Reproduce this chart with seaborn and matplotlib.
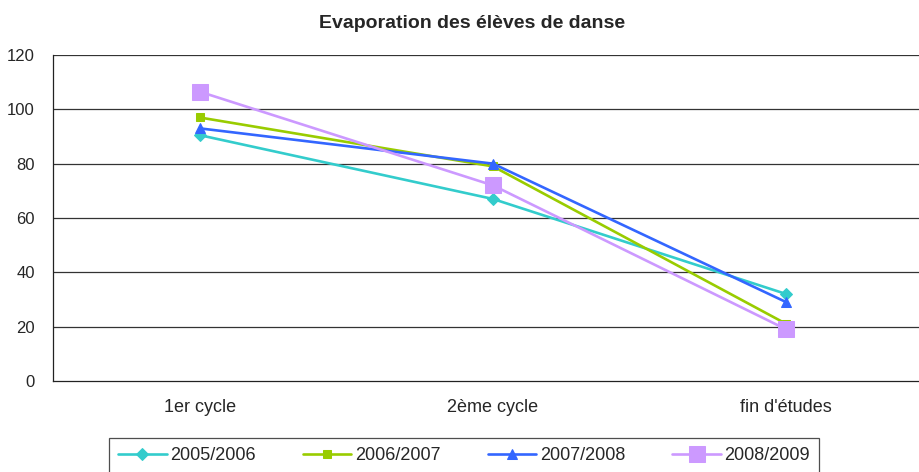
import numpy as np
import pandas as pd
import matplotlib
matplotlib.use("Agg")
import matplotlib.pyplot as plt
import seaborn as sns

# data
categories = ["1er cycle", "2ème cycle", "fin d'études"]
years = ["2005/2006", "2006/2007", "2007/2008", "2008/2009"]
v_2005 = [90.5, 67, 32]
v_2006 = [97, 79, 21]
v_2007 = [93, 80, 29]
v_2008 = [106.5, 72, 19]
y_ticks = [0, 20, 40, 60, 80, 100, 120]

colors = ["#33CCCC", "#99CC00", "#3366FF", "#CC99FF"]
markers = ["D", "s", "^", "s"]
msizes = [6, 5.5, 7.5, 11]

sns.set_style("white")
plt.rcParams["font.family"] = ["Liberation Sans", "DejaVu Sans"]

df = pd.DataFrame({
    "cat": np.tile(np.arange(len(categories)), len(years)),
    "val": v_2005 + v_2006 + v_2007 + v_2008,
    "year": np.repeat(years, len(categories)),
})

fig = plt.figure(figsize=(9.2, 4.72), dpi=100)
ax = fig.add_axes([53 / 920, 91 / 472, 880 / 920, 326 / 472])

for i, yr in enumerate(years):
    sns.lineplot(data=df[df["year"] == yr], x="cat", y="val", ax=ax,
                 color=colors[i], marker=markers[i], markersize=msizes[i],
                 markeredgecolor=colors[i], linewidth=1.9, label=yr,
                 legend=False, zorder=3 + i)

ax.set_xlim(-0.5, 2.5)
ax.set_ylim(0, 120)
ax.set_yticks(y_ticks)
ax.set_xticks(range(len(categories)))
ax.set_xticklabels(categories)
ax.set_xticks([-0.5, 0.5, 1.5], minor=True)
ax.tick_params(axis="x", which="major", length=0, pad=13, labelsize=13)
ax.tick_params(axis="x", which="minor", length=4, width=0.8, color="#333333")
ax.tick_params(axis="y", length=4, width=0.8, color="#333333", labelsize=12, pad=9)
ax.set_xlabel("")
ax.set_ylabel("")
for yv in y_ticks[1:]:
    ax.axhline(yv, color="#333333", linewidth=0.9, zorder=1)
for side in ["top", "right"]:
    ax.spines[side].set_visible(False)
for side in ["left", "bottom"]:
    ax.spines[side].set_color("#222222")
    ax.spines[side].set_linewidth(0.9)

fig.text(472 / 920, 1 - 23 / 472, "Evaporation des élèves de danse",
         ha="center", va="center", fontsize=14, fontweight="bold")

handles, labels = ax.get_legend_handles_labels()
leg = fig.legend(handles, labels, ncol=4, loc="center",
                 bbox_to_anchor=(464 / 920, 1 - 456 / 472),
                 frameon=True, fancybox=False, fontsize=13,
                 handlelength=2.7, handletextpad=0.2, columnspacing=2.6,
                 borderpad=0.5)
leg.get_frame().set_edgecolor("#222222")
leg.get_frame().set_linewidth(0.9)

fig.savefig("out.png", dpi=100)
